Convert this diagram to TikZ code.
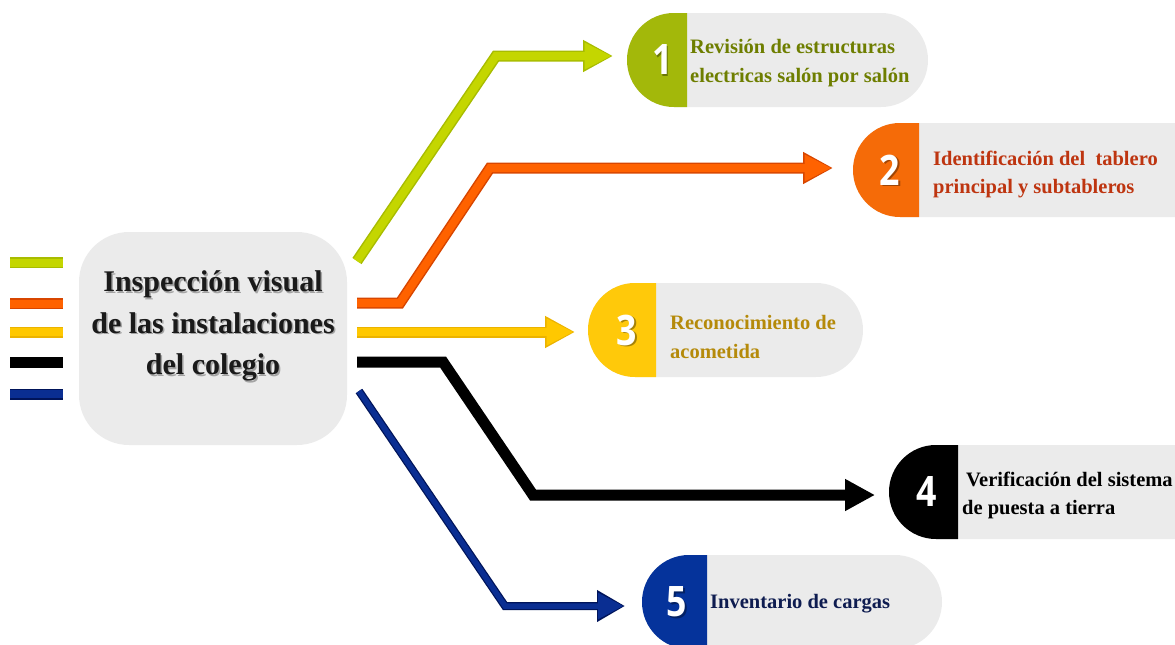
\documentclass[tikz,border=0pt]{standalone}
\usepackage{fontspec}
\setmainfont{Liberation Serif}
\newfontfamily\numfont{Open Sans}
\usetikzlibrary{arrows.meta}
\definecolor{pillgray}{HTML}{EBEBEB}
\definecolor{gline}{HTML}{C4D600}
\definecolor{gdark}{HTML}{A8BC00}
\definecolor{gpill}{HTML}{A3B80A}
\definecolor{gtext}{HTML}{6E7E00}
\definecolor{oline}{HTML}{FF6200}
\definecolor{odark}{HTML}{D84600}
\definecolor{opill}{HTML}{F56B08}
\definecolor{otext}{HTML}{BE3510}
\definecolor{yline}{HTML}{FFC800}
\definecolor{ydark}{HTML}{EBB300}
\definecolor{ypill}{HTML}{FFC90A}
\definecolor{ytext}{HTML}{B58A0A}
\definecolor{nline}{HTML}{0A2E92}
\definecolor{ndark}{HTML}{00145A}
\definecolor{npill}{HTML}{05339B}
\definecolor{ntext}{HTML}{0E1C50}
\definecolor{textdark}{HTML}{1A1A1A}
\newcommand{\mypill}[6]{%
  % #1 name, #2 x0, #3 yc, #4 xb, #5 x1, #6 colour
  \fill[pillgray, rounded corners=47pt] (#2,#3-47) rectangle (#5,#3+47);
  \begin{scope}
    \clip (#2-1,#3-48) rectangle (#4,#3+48);
    \fill[#6, rounded corners=47pt] (#2,#3-47) rectangle (#5,#3+47);
  \end{scope}
  \coordinate (#1) at (#2,#3);
}
\tikzset{
  cbox/.style={fill=pillgray, rounded corners=50pt, minimum width=268pt, minimum height=213pt, inner sep=0pt},
  ctext/.style={font=\bfseries\fontsize{30}{41.5}\selectfont, align=center, text=textdark, inner sep=0pt},
  cshadow/.style={font=\bfseries\fontsize{30}{41.5}\selectfont, align=center, text=black, opacity=0.3, inner sep=0pt},
  pilltext/.style={anchor=west, align=left, font=\bfseries\fontsize{20.5}{28.5}\selectfont, inner sep=0pt},
  numstyle/.style={font=\numfont\bfseries\fontsize{42}{42}\selectfont, text=white, inner sep=0pt, xscale=0.85},
  numshadow/.style={font=\numfont\bfseries\fontsize{42}{42}\selectfont, text=black, opacity=0.35, inner sep=0pt, xscale=0.85},
  outerln/.style={line width=11pt, draw=#1, -{Triangle[length=30pt,width=30pt]}},
  innerln/.style={line width=8pt, draw=#1, -{Triangle[length=27pt,width=25pt]}, shorten >=1.5pt},
  barout/.style={line width=11pt, draw=#1},
  barin/.style={line width=8pt, draw=#1},
}
\begin{document}
\begin{tikzpicture}[x=1pt,y=-1pt]
\useasboundingbox (0,0) rectangle (1175,645);
\clip (0,0) rectangle (1175,645);

% left bars
\draw[barout=gdark] (10,262.5) -- (63,262.5);
\draw[barin=gline] (10,262.5) -- (63,262.5);
\draw[barout=odark] (10,303.5) -- (63,303.5);
\draw[barin=oline] (10,303.5) -- (63,303.5);
\draw[barout=ydark] (10,332) -- (63,332);
\draw[barin=yline] (10,332) -- (63,332);
\draw[barout=black] (10,362) -- (63,362);
\draw[barout=ndark] (10,394) -- (63,394);
\draw[barin=nline] (10,394) -- (63,394);

% central box
\node[cbox] (c) at (213,338.5) {};
\node[cshadow] (cts) at (214.5,327.5) {Inspección visual\\de las instalaciones\\del colegio};
\node[ctext] (ct) at (213,326) {Inspección visual\\de las instalaciones\\del colegio};

% pills
\mypill{p1}{627}{60}{687}{928}{gpill}
\mypill{p2}{853}{170}{919}{1240}{opill}
\mypill{p3}{588}{330}{656}{863}{ypill}
\mypill{p4}{889}{492}{958}{1240}{black}
\mypill{p5}{642}{602}{707}{942}{npill}

% numbers
\node[numshadow] (n1s) at (664,61.5) {1};
\node[numstyle] (n1) at (662.5,60) {1};
\node[numshadow] (n2s) at (891.5,171.5) {2};
\node[numstyle] (n2) at (890,170) {2};
\node[numshadow] (n3s) at (628.5,331.5) {3};
\node[numstyle] (n3) at (627,330) {3};
\node[numshadow] (n4s) at (928.5,493.5) {4};
\node[numstyle] (n4) at (927,492) {4};
\node[numshadow] (n5s) at (678.5,603.5) {5};
\node[numstyle] (n5) at (677,602) {5};

% texts
\node[pilltext, text=gtext] (t1) at (690,63) {Revisión de estructuras\\electricas salón por salón};
\node[pilltext, text=otext] (t2) at (933,174.5) {Identificación del\ \ tablero\\principal y subtableros};
\node[pilltext, text=ytext] (t3) at (670,337) {Reconocimiento de\\acometida};
\node[pilltext, text=black] (t4) at (962,495.5) {\hspace{4pt}Verificación del sistema\\de puesta a tierra};
\node[pilltext, text=ntext] (t5) at (710,603.5) {Inventario de cargas};

% connector start points
\coordinate (s1) at (357,261);
\coordinate (s2) at (357,303);
\coordinate (s3) at (357,332);
\coordinate (s4) at (357,362);
\coordinate (s5) at (359,391);

% connectors
\draw[outerln=gdark] (s1) -- (496,56) -- ([shift={(-14,-4)}]p1);
\draw[innerln=gline] (s1) -- (496,56) -- ([shift={(-14,-4)}]p1);
\draw[outerln=odark] (s2) -- (400,303) -- (490,168) -- ([shift={(-20,-2)}]p2);
\draw[innerln=oline] (s2) -- (400,303) -- (490,168) -- ([shift={(-20,-2)}]p2);
\draw[outerln=ydark] (s3) -- ([shift={(-13,2)}]p3);
\draw[innerln=yline] (s3) -- ([shift={(-13,2)}]p3);
\draw[outerln=black] (s4) -- (443,362) -- (533,495) -- ([shift={(-14,3)}]p4);
\draw[line width=8pt, draw=ndark, -{Triangle[length=28pt,width=30pt]}] (s5) -- (505,606) -- ([shift={(-17,4)}]p5);
\draw[line width=5.5pt, draw=nline, -{Triangle[length=25.5pt,width=25pt]}, shorten >=1.5pt] (s5) -- (505,606) -- ([shift={(-17,4)}]p5);
\end{tikzpicture}
\end{document}
